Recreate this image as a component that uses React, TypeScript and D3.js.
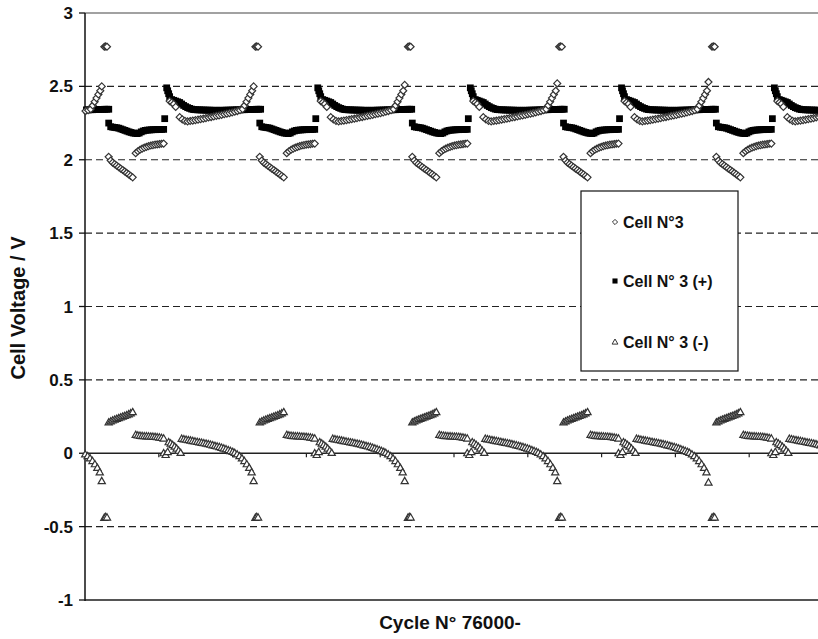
import React from "react";
import * as d3 from "d3";

const W = 818;
const H = 639;

// axis values
const yTickValues = [3, 2.5, 2, 1.5, 1, 0.5, 0, -0.5, -1];
const yTickLabels = ["3", "2.5", "2", "1.5", "1", "0.5", "0", "-0.5", "-1"];
const dashedLevels = [2.5, 2, 1.5, 1, 0.5, -0.5];
const zeroLineTicks = [10, 20, 30, 40, 50, 60, 70, 80, 90, 100];

// cycle timing (x units) : time of the end-of-charge spike of each cycle
const spikeTimes = [-17.78, 2.8, 23.27, 43.94, 64.43, 85.14];
const cellPeaks = [2.5, 2.5, 2.51, 2.52, 2.53, 2.57];
const negEnds = [-0.19, -0.19, -0.19, -0.19, -0.2, -0.24];

type Seg = { t0: number; t1: number; v: number[] };

// Cell N°3 (diamonds) — one cycle, offsets relative to spike
const cellSpike = [2.77, 2.772, 2.77];
const cellDis1 = [2.02, 1.995, 1.98, 1.97, 1.96, 1.95, 1.94, 1.93, 1.92, 1.91, 1.9, 1.89, 1.88];
const cellDis2 = [2.045, 2.058, 2.068, 2.076, 2.083, 2.088, 2.093, 2.097, 2.1, 2.103, 2.105, 2.107, 2.109, 2.11];
const cellChStart = [2.4, 2.39, 2.38, 2.36];
const cellChMain = [2.29, 2.275, 2.265, 2.262, 2.264, 2.267, 2.27, 2.273, 2.277, 2.28, 2.284, 2.288, 2.291, 2.295, 2.299, 2.302, 2.306, 2.31, 2.314, 2.318, 2.322, 2.327, 2.332, 2.338, 2.345];
const cellChEnd = [2.37, 2.395, 2.42, 2.445, 2.47];

// Cell N° 3 (+) (squares)
const posStep = [2.25];
const posDis = [2.225, 2.222, 2.22, 2.218, 2.215, 2.21, 2.205, 2.2, 2.195, 2.19, 2.186, 2.182, 2.18, 2.178, 2.182, 2.19, 2.196, 2.2, 2.202, 2.203, 2.204, 2.205, 2.205, 2.206, 2.206, 2.207, 2.207];
const posSingle = [2.28];
const posTop = [2.49, 2.47, 2.45, 2.43];
const posStep2 = [2.41, 2.405, 2.4, 2.395, 2.39, 2.38];
const posSweep = [2.37, 2.362, 2.355, 2.35, 2.345];
const posPlateau = [2.342, 2.341, 2.34, 2.34, 2.339, 2.339, 2.338, 2.338, 2.338, 2.337, 2.337, 2.337, 2.337, 2.337, 2.337, 2.337, 2.338, 2.338, 2.338, 2.339, 2.339, 2.34, 2.34, 2.34, 2.341, 2.341, 2.342, 2.342, 2.343, 2.343, 2.343, 2.344, 2.344, 2.344];

// Cell N° 3 (-) (triangles)
const negSpike = [-0.44, -0.435, -0.438];
const negDis1 = [0.21, 0.217, 0.223, 0.229, 0.234, 0.239, 0.244, 0.249, 0.254, 0.259, 0.265, 0.272, 0.28];
const negDis2 = [0.125, 0.121, 0.119, 0.117, 0.116, 0.115, 0.114, 0.113, 0.112, 0.111, 0.109, 0.107, 0.104, 0.1];
const negTrans = [0.0, -0.012, 0.008];
const negChStart = [0.075, 0.066, 0.056, 0.045, 0.032, 0.017, 0.002];
const negChMain = [0.098, 0.095, 0.092, 0.089, 0.086, 0.083, 0.08, 0.077, 0.074, 0.071, 0.068, 0.065, 0.062, 0.058, 0.054, 0.05, 0.046, 0.042, 0.037, 0.032, 0.027, 0.021, 0.015, 0.009];
const negChCurve = [0.002, -0.008, -0.02, -0.035, -0.053, -0.075, -0.1, -0.13];

const cellSegs: Seg[] = [
  { t0: -0.18, t1: 0.18, v: cellSpike },
  { t0: 0.41, t1: 3.66, v: cellDis1 },
  { t0: 4.07, t1: 7.86, v: cellDis2 },
  { t0: 8.67, t1: 9.49, v: cellChStart },
  { t0: 10.03, t1: 18.56, v: cellChMain },
  { t0: 18.83, t1: 19.85, v: cellChEnd },
];
const posSegs: Seg[] = [
  { t0: 0.41, t1: 0.41, v: posStep },
  { t0: 0.68, t1: 7.86, v: posDis },
  { t0: 8.0, t1: 8.0, v: posSingle },
  { t0: 8.27, t1: 8.67, v: posTop },
  { t0: 8.94, t1: 10.3, v: posStep2 },
  { t0: 10.57, t1: 11.65, v: posSweep },
  { t0: 11.92, t1: 21.0, v: posPlateau },
];
const negSegs: Seg[] = [
  { t0: -0.18, t1: 0.18, v: negSpike },
  { t0: 0.41, t1: 3.66, v: negDis1 },
  { t0: 4.07, t1: 7.86, v: negDis2 },
  { t0: 7.86, t1: 8.4, v: negTrans },
  { t0: 8.54, t1: 10.16, v: negChStart },
  { t0: 10.3, t1: 17.21, v: negChMain },
  { t0: 17.48, t1: 19.78, v: negChCurve },
];

type Pt = { t: number; v: number };

function expand(segs: Seg[], extra: (i: number) => Seg[]): Pt[] {
  const out: Pt[] = [];
  spikeTimes.forEach((s, i) => {
    [...segs, ...extra(i)].forEach((g) => {
      const n = g.v.length;
      g.v.forEach((v, k) => {
        const t = n === 1 ? g.t0 : g.t0 + (k * (g.t1 - g.t0)) / (n - 1);
        out.push({ t: s + t, v });
      });
    });
  });
  return out.filter((p) => p.t >= 0 && p.t <= 101);
}

const cellPts = expand(cellSegs, (i) => [{ t0: 20.05, t1: 20.05, v: [cellPeaks[i]] }]);
const posPts = expand(posSegs, () => []);
const negPts = expand(negSegs, (i) => [{ t0: 20.05, t1: 20.05, v: [negEnds[i]] }]);

const x = d3.scaleLinear().domain([0, 100]).range([85, 823]);
const y = d3.scaleLinear().domain([-1, 3]).range([600, 13]);

const FONT = "'Liberation Sans', Arial, Helvetica, sans-serif";

const diamondPath = "M0,-3.5L3.5,0L0,3.5L-3.5,0Z";
const squarePath = d3.symbol(d3.symbolSquare, 46)() as string;
const trianglePath = "M0,-3.8L3.6,2.5L-3.6,2.5Z";

export default function App() {
  const left = x(0);
  return (
    <div style={{ position: "absolute", left: 0, top: 0, width: W, height: H, background: "#fff" }}>
      <svg width={W} height={H} style={{ display: "block" }} fontFamily={FONT}>
        <rect x={0} y={0} width={W} height={H} fill="#fff" />
        {/* dashed grid */}
        {dashedLevels.map((lv) => (
          <line key={lv} x1={left} x2={W} y1={y(lv)} y2={y(lv)} stroke="#222" strokeWidth={1.2} strokeDasharray="7,4" />
        ))}
        {/* top border */}
        <line x1={left} x2={W} y1={y(3)} y2={y(3)} stroke="#444" strokeWidth={1.2} />
        {/* zero line with ticks */}
        <line x1={left} x2={W} y1={y(0)} y2={y(0)} stroke="#222" strokeWidth={1.3} />
        {zeroLineTicks.map((t) => (
          <line key={t} x1={x(t)} x2={x(t)} y1={y(0)} y2={y(0) + 4} stroke="#222" strokeWidth={1.2} />
        ))}
        {/* bottom axis */}
        <line x1={left} x2={W} y1={y(-1)} y2={y(-1)} stroke="#555" strokeWidth={2.2} />
        {/* left axis */}
        <line x1={left} x2={left} y1={y(3)} y2={y(-1) + 1} stroke="#111" strokeWidth={1.5} />
        {yTickValues.map((v, i) => (
          <g key={v}>
            <line x1={left - 6} x2={left} y1={y(v)} y2={y(v)} stroke="#111" strokeWidth={1.3} />
            <text x={73} y={y(v)} dy="0.36em" textAnchor="end" fontSize={17} fontWeight="bold" fill="#111">
              {yTickLabels[i]}
            </text>
          </g>
        ))}
        {/* axis titles */}
        <text x={450} y={629} textAnchor="middle" fontSize={19} fontWeight="bold" fill="#111">
          Cycle N° 76000-
        </text>
        <text transform={`translate(25,308) rotate(-90)`} textAnchor="middle" fontSize={20} fontWeight="bold" fill="#111">
          Cell Voltage / V
        </text>
        {/* series */}
        <g>
          {posPts.map((p, i) => (
            <path key={i} d={squarePath} transform={`translate(${x(p.t)},${y(p.v)})`} fill="#000" />
          ))}
        </g>
        <g>
          {cellPts.map((p, i) => (
            <path key={i} d={diamondPath} transform={`translate(${x(p.t)},${y(p.v)})`} fill="#fff" stroke="#333" strokeWidth={1.2} />
          ))}
        </g>
        <g>
          {negPts.map((p, i) => (
            <path key={i} d={trianglePath} transform={`translate(${x(p.t)},${y(p.v)})`} fill="#fff" stroke="#333" strokeWidth={1.2} />
          ))}
        </g>
        {/* legend */}
        <g>
          <rect x={581} y={191} width={157} height={180} fill="#fff" stroke="#111" strokeWidth={1.2} />
          <path d="M0,-2.6L2.6,0L0,2.6L-2.6,0Z" transform="translate(615,222)" fill="#fff" stroke="#333" strokeWidth={1} />
          <text x={623} y={222} dy="0.36em" fontSize={16} fontWeight="bold" fill="#111">Cell N°3</text>
          <path d={d3.symbol(d3.symbolSquare, 26)() as string} transform="translate(615,281)" fill="#000" />
          <text x={623} y={281} dy="0.36em" fontSize={16} fontWeight="bold" fill="#111">Cell N° 3 (+)</text>
          <path d="M0,-3L2.9,2.1L-2.9,2.1Z" transform="translate(615,342)" fill="#fff" stroke="#333" strokeWidth={1} />
          <text x={623} y={342} dy="0.36em" fontSize={16} fontWeight="bold" fill="#111">Cell N° 3 (-)</text>
        </g>
      </svg>
    </div>
  );
}
